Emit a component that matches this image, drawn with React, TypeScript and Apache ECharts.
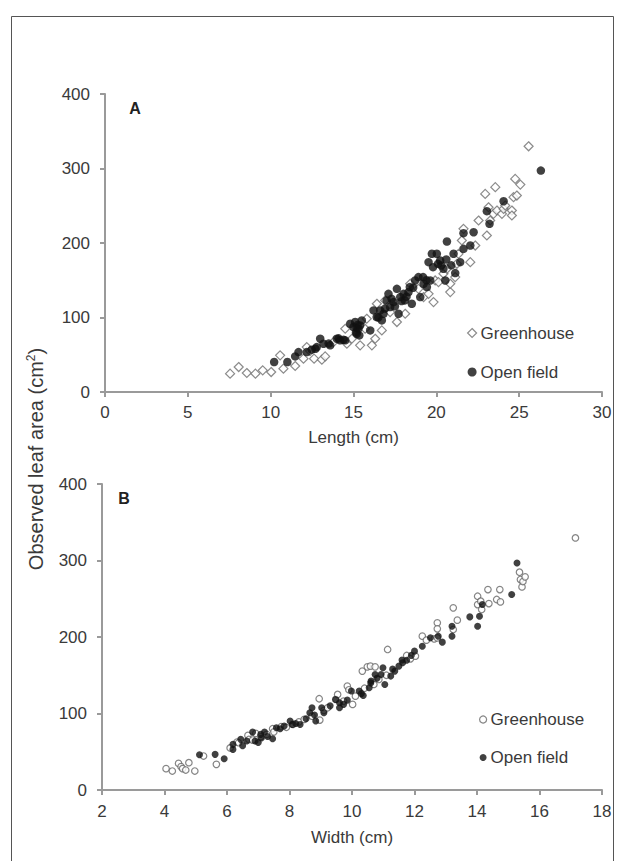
import React, { useEffect, useRef } from "react";
import * as echarts from "echarts";

// Panel A: leaf length (cm) vs observed leaf area (cm²)
const ghLengthA = [7.55, 8.07, 8.56, 9.08, 9.52, 10.03, 10.57, 10.77, 11.48, 11.98, 12.18, 12.38, 12.62, 13.09, 13.29, 13.79, 14.5, 14.6, 14.9, 15.4, 15.7, 15.8, 16.11, 16.31, 16.41, 16.71, 16.91, 17.21, 17.62, 18.12, 18.42, 18.92, 19.23, 19.53, 19.83, 19.93, 20.13, 20.43, 20.64, 20.84, 20.84, 21.14, 21.24, 21.34, 21.54, 21.64, 22.05, 22.35, 22.55, 22.95, 23.05, 23.15, 23.25, 23.45, 23.56, 23.66, 23.96, 24.06, 24.16, 24.56, 24.56, 24.66, 24.76, 24.86, 25.07, 25.57];
const ghAreaA = [24.6, 33.5, 25.5, 24.6, 29.1, 26.8, 49.2, 31.3, 34.9, 44.7, 60.3, 55, 44.7, 43.4, 47.8, 67.0, 84.9, 64.8, 71.5, 62.6, 84.9, 98.3, 62.6, 71.5, 118.4, 82.7, 122.9, 107.3, 93.9, 105.0, 145.3, 138.5, 127.4, 131.8, 120.7, 149.7, 147.5, 158.7, 165.4, 134.1, 145.3, 154.2, 172.1, 185.5, 203.4, 219.0, 174.3, 196.6, 230.2, 265.9, 210.1, 248.0, 230.2, 239.1, 274.9, 243.6, 239.1, 245.8, 250.3, 243.6, 236.9, 261.5, 286.0, 263.7, 278.4, 329.8];
const ofLengthA = [10.21, 11.01, 11.48, 11.68, 12.18, 12.48, 12.7, 12.78, 12.99, 13.19, 13.5, 13.59, 13.99, 14.1, 14.19, 14.4, 14.5, 14.8, 15.0, 15.1, 15.15, 15.2, 15.2, 15.25, 15.3, 15.35, 15.4, 15.5, 16.01, 16.21, 16.4, 16.5, 16.61, 16.71, 16.81, 16.9, 17.0, 17.11, 17.21, 17.3, 17.42, 17.5, 17.62, 17.72, 17.82, 17.9, 18.02, 18.1, 18.2, 18.32, 18.4, 18.52, 18.6, 18.72, 18.92, 19.03, 19.2, 19.23, 19.4, 19.43, 19.53, 19.63, 19.73, 19.8, 20.03, 20.1, 20.23, 20.3, 20.43, 20.54, 20.6, 20.64, 20.9, 21.04, 21.14, 21.44, 21.64, 21.64, 22.05, 22.25, 23.05, 23.21, 24.06, 26.31];
const ofAreaA = [40.2, 40.2, 47.8, 53.6, 53.6, 56.8, 58, 60.3, 71.5, 64.8, 65, 62.6, 71.5, 72, 69.3, 70, 69.3, 91.6, 87.2, 93.9, 80, 78.2, 86, 90, 84.9, 76, 89.4, 96.1, 82.7, 109.5, 100.6, 100, 109.5, 96.1, 105.0, 112, 122.9, 131.8, 114.0, 125, 120.7, 115, 138.5, 105.0, 127.4, 122, 131.8, 122.9, 128, 134.1, 140.8, 118.4, 140, 149.7, 154.2, 127.4, 154.2, 145.3, 150, 140.8, 174.3, 149.7, 185.5, 167.6, 185.5, 172, 176.5, 169.8, 165.4, 149.7, 178, 202.0, 170, 185.5, 159.6, 174.3, 213.2, 192.2, 196.6, 214.5, 242.7, 225.7, 256.1, 297.2];

// Panel B: leaf width (cm) vs observed leaf area (cm²)
const ghWidthB = [4.05, 4.25, 4.45, 4.53, 4.58, 4.68, 4.78, 4.97, 5.25, 5.66, 6.1, 6.32, 6.37, 6.67, 6.7, 6.82, 6.92, 7.08, 7.27, 7.46, 7.5, 7.73, 7.9, 8.11, 8.3, 8.47, 8.72, 8.95, 8.97, 9.1, 9.22, 9.48, 9.54, 9.73, 9.85, 9.9, 10.02, 10.11, 10.33, 10.4, 10.49, 10.59, 10.7, 10.74, 10.86, 11.1, 11.14, 11.75, 11.87, 12.03, 12.25, 12.38, 12.63, 12.73, 12.73, 12.73, 13.24, 13.24, 13.37, 14.02, 14.02, 14.12, 14.15, 14.35, 14.38, 14.63, 14.73, 14.75, 15.36, 15.39, 15.44, 15.47, 15.54, 17.15];
const ghAreaB = [27.9, 24.8, 34.8, 30.5, 27.9, 26.1, 35.7, 24.8, 44.4, 33.5, 55, 62.7, 61.8, 71.4, 66, 65.3, 74.0, 69.6, 72.7, 80.1, 76, 82.7, 82, 85.7, 89, 92.3, 96.6, 119.3, 91.4, 104, 107.5, 118.4, 124.9, 116.2, 135.8, 131, 111.9, 122.7, 155.4, 133, 161.0, 161.9, 138, 161.0, 144.5, 150, 183.7, 175.8, 171.5, 175.0, 201.1, 195.9, 197.6, 218.5, 210.7, 198.9, 238.1, 209.8, 222.0, 253.3, 242.4, 246.8, 235.9, 262.0, 243.7, 249.0, 262.0, 245.9, 284.7, 275.1, 265.5, 272.5, 278.6, 329.5];
const ofWidthB = [5.12, 5.62, 5.91, 6.19, 6.19, 6.44, 6.5, 6.63, 6.82, 6.9, 7.0, 7.08, 7.1, 7.2, 7.3, 7.46, 7.58, 7.7, 7.83, 8.02, 8.09, 8.2, 8.34, 8.53, 8.65, 8.72, 8.8, 8.84, 9.03, 9.1, 9.3, 9.48, 9.6, 9.6, 9.73, 9.85, 9.98, 10.23, 10.3, 10.36, 10.55, 10.6, 10.61, 10.74, 10.8, 10.93, 10.99, 11.05, 11.24, 11.3, 11.37, 11.5, 11.6, 11.62, 11.75, 11.9, 12.0, 12.25, 12.51, 12.76, 12.89, 13.2, 13.2, 13.77, 14.02, 14.08, 14.17, 15.11, 15.28];
const ofAreaB = [46, 46.6, 40.9, 53.1, 59.6, 66.2, 58, 64.0, 75.7, 64, 62, 72.7, 68, 75.7, 70, 67.0, 81.4, 80, 83.6, 90.1, 85.7, 87, 85.7, 93.1, 101.0, 107.5, 98, 90.1, 107.5, 101.0, 110, 118.4, 107.5, 114, 111.9, 117.5, 129.3, 129.3, 126, 123.6, 133.6, 140, 142.3, 151.0, 146, 151.0, 159.7, 138.0, 148.9, 158, 155.4, 161.9, 170, 166.3, 169.7, 176, 181.5, 188.0, 198.9, 201.1, 193.3, 214.1, 201.1, 226.3, 214.1, 227.2, 242.4, 255.5, 296.8];

const seriesNames = ["Greenhouse", "Open field"];
const yTicks = [0, 100, 200, 300, 400];

const zip = (xs: number[], ys: number[]) => xs.map((x, i) => [x, ys[i]]);

const FONT = "Liberation Sans, Arial, sans-serif";
const AXIS_GRAY = "#9a9a9a";
const TEXT = "#3a3a3a";
const DOT = "#111111";

export default function App() {
  const ref = useRef<HTMLDivElement>(null);
  useEffect(() => {
    if (!ref.current) return;
    const chart = echarts.init(ref.current, undefined, { renderer: "svg" });
    const axisCommon = {
      axisLine: { show: true, lineStyle: { color: AXIS_GRAY, width: 2 } },
      axisTick: { show: true, inside: false, length: 5, lineStyle: { color: AXIS_GRAY, width: 2 } },
      splitLine: { show: false },
      nameTextStyle: { fontSize: 17, color: TEXT, fontFamily: FONT },
    };
    const labelStyle = (margin: number) => ({ fontSize: 17, color: TEXT, fontFamily: FONT, margin });
    chart.setOption({
      animation: false,
      backgroundColor: "#ffffff",
      textStyle: { fontFamily: FONT },
      grid: [
        { left: 105, top: 94, width: 497, height: 298 },
        { left: 102, top: 484, width: 500, height: 306 },
      ],
      xAxis: [
        { ...axisCommon, type: "value", gridIndex: 0, min: 0, max: 30, interval: 5, name: "Length (cm)", nameLocation: "middle", nameGap: 37, axisLabel: labelStyle(12) },
        { ...axisCommon, type: "value", gridIndex: 1, min: 2, max: 18, interval: 2, name: "Width (cm)", nameLocation: "middle", nameGap: 39, axisLabel: labelStyle(13) },
      ],
      yAxis: [
        { ...axisCommon, type: "value", gridIndex: 0, min: yTicks[0], max: yTicks[yTicks.length - 1], interval: 100, axisLabel: labelStyle(15) },
        { ...axisCommon, type: "value", gridIndex: 1, min: yTicks[0], max: yTicks[yTicks.length - 1], interval: 100, axisLabel: labelStyle(15) },
      ],
      legend: [
        {
          orient: "vertical", left: 462, top: 319.5, itemGap: 22, itemWidth: 9, itemHeight: 9, selectedMode: false,
          textStyle: { fontSize: 17, color: TEXT, fontFamily: FONT, padding: [0, 0, 0, -1] },
          data: [
            { name: seriesNames[0], icon: "diamond", itemStyle: { color: "#ffffff", borderColor: "#6e6e6e", borderWidth: 1.2 } },
            { name: seriesNames[1], icon: "circle", itemStyle: { color: DOT, borderWidth: 0 } },
          ],
        },
        {
          orient: "vertical", left: 474, top: 706, itemGap: 21, itemWidth: 7, itemHeight: 7, selectedMode: false,
          textStyle: { fontSize: 17, color: TEXT, fontFamily: FONT, padding: [0, 0, 0, -1] },
          data: [
            { name: seriesNames[0], icon: "circle", itemStyle: { color: "#ffffff", borderColor: "#666666", borderWidth: 1.2 } },
            { name: seriesNames[1], icon: "circle", itemStyle: { color: DOT, borderWidth: 0 } },
          ],
        },
      ],
      series: [
        {
          name: seriesNames[0], type: "scatter", xAxisIndex: 0, yAxisIndex: 0, symbol: "diamond", symbolSize: 9,
          itemStyle: { color: "#ffffff", borderColor: "#6e6e6e", borderWidth: 1.2 }, data: zip(ghLengthA, ghAreaA),
        },
        {
          name: seriesNames[1], type: "scatter", xAxisIndex: 0, yAxisIndex: 0, symbol: "circle", symbolSize: 8.5,
          itemStyle: { color: DOT }, data: zip(ofLengthA, ofAreaA),
        },
        {
          name: seriesNames[0], type: "scatter", xAxisIndex: 1, yAxisIndex: 1, symbol: "circle", symbolSize: 6.5,
          itemStyle: { color: "#ffffff", borderColor: "#666666", borderWidth: 1.2 }, data: zip(ghWidthB, ghAreaB),
        },
        {
          name: seriesNames[1], type: "scatter", xAxisIndex: 1, yAxisIndex: 1, symbol: "circle", symbolSize: 7,
          itemStyle: { color: DOT }, data: zip(ofWidthB, ofAreaB),
        },
      ],
      graphic: [
        { type: "rect", left: 9, top: 14, shape: { width: 602, height: 900 }, style: { fill: "none", stroke: "#555555", lineWidth: 1 }, silent: true },
        { type: "text", x: 135, y: 108, style: { text: "A", font: `bold 16px ${FONT}`, fill: "#222222", align: "center", verticalAlign: "middle" } },
        { type: "text", x: 124, y: 498, style: { text: "B", font: `bold 16px ${FONT}`, fill: "#222222", align: "center", verticalAlign: "middle" } },
        {
          type: "text", x: 36, y: 459, rotation: Math.PI / 2,
          style: {
            text: "Observed leaf area (cm{sup|2})",
            font: `20px ${FONT}`, fill: TEXT, align: "center", verticalAlign: "middle",
            rich: { sup: { fontSize: 12, fontFamily: FONT, fill: TEXT, padding: [0, 0, 10, 0] } },
          },
        },
      ],
    });
    return () => chart.dispose();
  }, []);
  return <div ref={ref} style={{ position: "absolute", left: 0, top: 0, width: 619, height: 861 }} />;
}
